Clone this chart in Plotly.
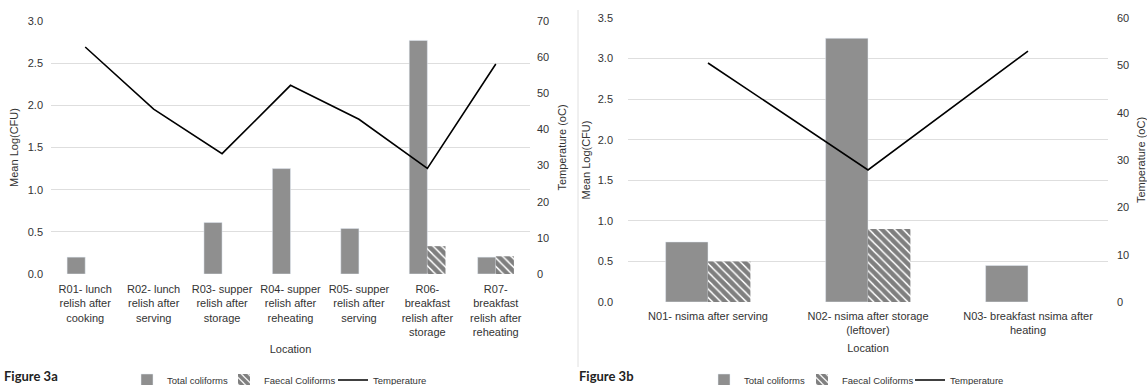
import plotly.graph_objects as go

# ---------- data ----------
cats_a = ["R01- lunch<br>relish after<br>cooking",
          "R02- lunch<br>relish after<br>serving",
          "R03- supper<br>relish after<br>storage",
          "R04- supper<br>relish after<br>reheating",
          "R05- supper<br>relish after<br>serving",
          "R06-<br>breakfast<br>relish after<br>storage",
          "R07-<br>breakfast<br>relish after<br>reheating"]
total_a = [0.20, None, 0.61, 1.25, 0.54, 2.77, 0.20]
faecal_a = [None, None, None, None, None, 0.33, 0.21]
temp_a = [62.8, 45.6, 33.3, 52.2, 42.8, 29.2, 58.1]

cats_b = ["N01- nsima after serving",
          "N02- nsima after storage<br>(leftover)",
          "N03- breakfast nsima after<br>heating"]
total_b = [0.74, 3.25, 0.45]
faecal_b = [0.50, 0.90, None]
temp_b = [50.5, 27.9, 53.0]

W, H = 1147, 385
FONT = "Liberation Sans, Arial, sans-serif"
GRAY = "#8f8f8f"
TXT = "#333333"
GRID = "#dedede"

def px(x):
    return x / W

def py(y):
    return 1 - y / H

pattern = dict(shape="\\", fgcolor="black", bgcolor="white", size=6, solidity=0.75)

fig = go.Figure()

# ----- Figure 3a -----
fig.add_trace(go.Bar(x=cats_a, y=total_a, name="Total coliforms", marker_color=GRAY,
                     xaxis="x", yaxis="y", legend="legend"))
fig.add_trace(go.Bar(x=cats_a, y=faecal_a, name="Faecal Coliforms",
                     marker=dict(color="white", pattern=pattern, line=dict(width=0)),
                     xaxis="x", yaxis="y", legend="legend2"))
fig.add_trace(go.Scatter(x=cats_a, y=temp_a, name="Temperature", mode="lines",
                         line=dict(color="black", width=1.6),
                         xaxis="x", yaxis="y2", legend="legend3"))

# ----- Figure 3b -----
fig.add_trace(go.Bar(x=cats_b, y=total_b, name="Total coliforms", marker_color=GRAY,
                     xaxis="x2", yaxis="y3", legend="legend4"))
fig.add_trace(go.Bar(x=cats_b, y=faecal_b, name="Faecal Coliforms",
                     marker=dict(color="white", pattern=pattern, line=dict(width=0)),
                     xaxis="x2", yaxis="y3", legend="legend5"))
fig.add_trace(go.Scatter(x=cats_b, y=temp_b, name="Temperature", mode="lines",
                         line=dict(color="black", width=1.6),
                         xaxis="x2", yaxis="y4", legend="legend6"))

tickfont = dict(family=FONT, size=11, color=TXT)
titlefont = dict(family=FONT, size=11, color=TXT)

def legend_at(text_x, y):
    return dict(x=px(text_x - 40), y=py(y), xref="container", yref="container",
                xanchor="left", yanchor="middle",
                orientation="h", bgcolor="rgba(0,0,0,0)", borderwidth=0,
                font=dict(family=FONT, size=9.5, color=TXT), itemwidth=30)

common = dict(automargin=False, showline=False, ticks="")

fig.update_layout(
    width=W, height=H,
    margin=dict(l=0, r=0, t=0, b=0, autoexpand=False),
    paper_bgcolor="white", plot_bgcolor="white",
    barmode="group", bargap=0.47, bargroupgap=0,
    font=dict(family=FONT, color=TXT),
    xaxis=dict(domain=[px(51), px(530)], anchor="y", tickfont=tickfont,
               showgrid=False, ticklabelstandoff=7, **common,
               title=dict(text="Location", font=titlefont, standoff=8)),
    yaxis=dict(domain=[py(274), py(21)], anchor="x", range=[0, 3.0], dtick=0.5,
               tickformat=".1f", tickfont=tickfont, showgrid=True, gridcolor=GRID,
               gridwidth=1, zeroline=False, ticklabelstandoff=7, **common,
               title=dict(text="Mean Log(CFU)", font=titlefont, standoff=6)),
    yaxis2=dict(overlaying="y", anchor="x", side="right", range=[0, 70], dtick=10,
                tickfont=tickfont, showgrid=False, zeroline=False,
                ticklabelstandoff=6, **common,
                title=dict(text="Temperature (oC)", font=titlefont, standoff=10)),
    xaxis2=dict(domain=[px(628), px(1108)], anchor="y3", tickfont=tickfont,
                showgrid=False, ticklabelstandoff=6, **common,
                title=dict(text="Location", font=titlefont, standoff=9)),
    yaxis3=dict(domain=[py(302), py(18)], anchor="x2", range=[0, 3.5], dtick=0.5,
                tickformat=".1f", tickfont=tickfont, showgrid=True, gridcolor=GRID,
                gridwidth=1, zeroline=False, ticklabelstandoff=14, **common,
                title=dict(text="Mean Log(CFU)", font=titlefont, standoff=4)),
    yaxis4=dict(overlaying="y3", anchor="x2", side="right", range=[0, 60], dtick=10,
                tickfont=tickfont, showgrid=False, zeroline=False,
                ticklabelstandoff=8, **common,
                title=dict(text="Temperature (oC)", font=titlefont, standoff=10)),
    legend=legend_at(167, 380),
    legend2=legend_at(264, 380),
    legend3=legend_at(373, 380),
    legend4=legend_at(744, 380),
    legend5=legend_at(842, 380),
    legend6=legend_at(950, 380),
    showlegend=True,
)

fig.add_annotation(text="<b>Figure 3a</b>", x=px(2), y=py(376), xref="paper", yref="paper",
                   xanchor="left", yanchor="middle", showarrow=False,
                   font=dict(family="Lato, sans-serif", size=13, color="#222222"))
fig.add_annotation(text="<b>Figure 3b</b>", x=px(577), y=py(376), xref="paper", yref="paper",
                   xanchor="left", yanchor="middle", showarrow=False,
                   font=dict(family="Lato, sans-serif", size=13, color="#222222"))

fig.add_shape(type="line", xref="paper", yref="paper", x0=px(578), x1=px(578),
              y0=py(10), y1=py(367), line=dict(color="#e0e0e0", width=1))

fig.write_html("out.html", config={"displayModeBar": False},
               post_script="document.body.style.margin='0';document.body.style.overflow='hidden';")
